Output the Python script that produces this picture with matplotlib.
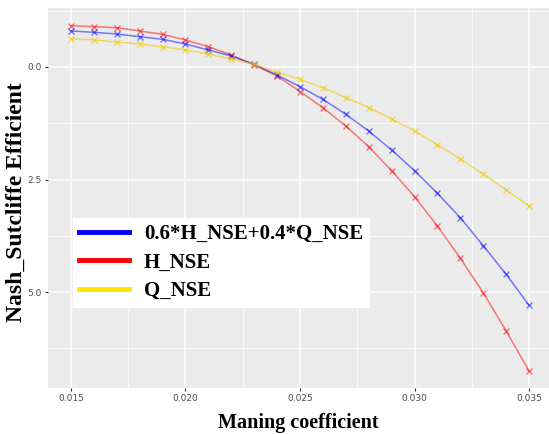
import matplotlib
matplotlib.use("Agg")
import matplotlib.pyplot as plt
import numpy as np
from matplotlib.lines import Line2D
from matplotlib.ticker import FuncFormatter, MultipleLocator

# Manning coefficient (x) and Nash-Sutcliffe efficiency of each series
maning = [0.015, 0.016, 0.017, 0.018, 0.019, 0.020, 0.021, 0.022, 0.023, 0.024, 0.025,
          0.026, 0.027, 0.028, 0.029, 0.030, 0.031, 0.032, 0.033, 0.034, 0.035]
h_nse = [0.918, 0.896, 0.873, 0.800, 0.727, 0.600, 0.451, 0.267, 0.044, -0.200, -0.545,
         -0.904, -1.311, -1.771, -2.304, -2.882, -3.533, -4.251, -5.016, -5.867, -6.756]
q_nse = [0.629, 0.600, 0.556, 0.511, 0.451, 0.378, 0.289, 0.178, 0.060, -0.118, -0.273,
         -0.460, -0.680, -0.900, -1.156, -1.420, -1.730, -2.040, -2.380, -2.730, -3.090]
mix_nse = [0.800, 0.771, 0.733, 0.673, 0.616, 0.511, 0.378, 0.244, 0.060, -0.178, -0.438,
           -0.718, -1.051, -1.422, -1.844, -2.304, -2.807, -3.349, -3.971, -4.607, -5.296]
labels = ['0.6*H_NSE+0.4*Q_NSE', 'H_NSE', 'Q_NSE']

serif = ['Liberation Serif', 'DejaVu Serif']

fig = plt.figure(figsize=(5.49, 4.34), dpi=100)
ax = fig.add_axes([48/549, 1-388/434, 1-48/549, (388-8)/434])
ax.set_facecolor('#EBEBEB')
for s in ax.spines.values():
    s.set_visible(False)

ax.set_xlim(0.014, 0.03587)
ax.set_ylim(-7.133, 1.311)
ax.xaxis.set_major_locator(MultipleLocator(0.005))
ax.xaxis.set_minor_locator(MultipleLocator(0.0025))
ax.yaxis.set_major_locator(MultipleLocator(2.5))
ax.yaxis.set_minor_locator(MultipleLocator(1.25))
ax.xaxis.set_major_formatter(FuncFormatter(lambda v, p: '%.3f' % v))
ax.yaxis.set_major_formatter(FuncFormatter(lambda v, p: '%.1f' % abs(v)))
ax.grid(which='major', color='white', linewidth=1.1)
ax.grid(which='minor', color='white', linewidth=0.55)
ax.set_axisbelow(True)
ax.tick_params(which='major', length=2.5, width=0.8, color='#333333',
               labelcolor='#4D4D4D', labelsize=6.5, pad=2)
ax.tick_params(which='minor', length=0)

ax.plot(maning, h_nse, color='#FF0000', alpha=0.5, lw=1.1, marker='x', ms=5, mew=1)
ax.plot(maning, mix_nse, color='#0000FF', alpha=0.5, lw=1.1, marker='x', ms=5, mew=1)
ax.plot(maning, q_nse, color='#F2C800', alpha=0.6, lw=1.1, marker='x', ms=5, mew=1)

# axis titles placed by hand, as in the reference
fig.text(298.5/549, 1-428/434, 'Maning coefficient', family=serif, fontweight='bold',
         fontsize=14.5, ha='center', va='baseline')
ax.set_ylabel('Nash_Sutcliffe Efficient', family=serif, fontweight='bold', fontsize=17)
ax.yaxis.set_label_coords(-0.042, 0.49)

handles = [Line2D([], [], color='#0000FF', lw=3.5),
           Line2D([], [], color='#FF0000', lw=3.5),
           Line2D([], [], color='#FFE600', lw=3.5)]
leg = ax.legend(handles, labels, loc='upper left',
                bbox_to_anchor=(73/549, 1-218/434), bbox_transform=fig.transFigure,
                prop={'family': serif, 'weight': 'bold', 'size': 15},
                frameon=True, fancybox=False, framealpha=1, edgecolor='white',
                handlelength=2.4, handletextpad=0.7, labelspacing=0.4,
                borderpad=0.3, borderaxespad=0)

fig.savefig('out.png', dpi=100)
